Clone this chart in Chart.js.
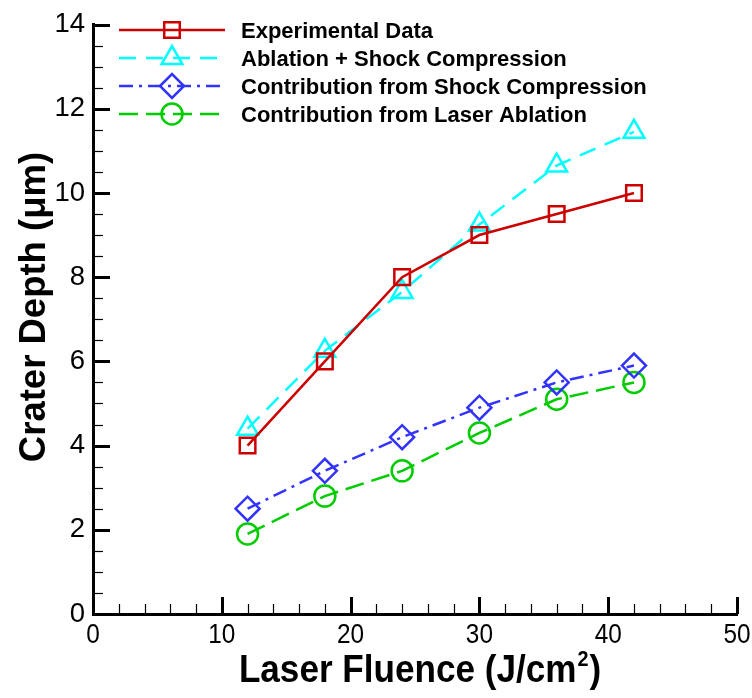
<!DOCTYPE html>
<html>
<head>
<meta charset="utf-8">
<title>Crater depth vs laser fluence</title>
<script src="https://cdn.jsdelivr.net/npm/chart.js@4/dist/chart.umd.min.js"></script>
<style>
  html, body { margin: 0; padding: 0; background: #fff; }
  #wrap { width: 752px; height: 698px; }
</style>
</head>
<body>
<div id="wrap"><canvas id="chart" width="752" height="698"></canvas></div>
<script>
// fluence values (J/cm^2) and measured / modelled crater depth (um)
const fluence = [12, 18, 24, 30, 36, 42];
const experimental = [4.0, 6.0, 8.0, 9.0, 9.5, 10.0];
const ablationShock = [4.4, 6.25, 7.65, 9.25, 10.65, 11.45];
const shockPart = [2.5, 3.4, 4.2, 4.9, 5.5, 5.9];
const laserPart = [1.9, 2.8, 3.4, 4.3, 5.1, 5.5];

const seriesNames = [
  'Experimental Data',
  'Ablation + Shock Compression',
  'Contribution from Shock Compression',
  'Contribution from Laser Ablation'
];

const xMajor = [0, 10, 20, 30, 40, 50];
const yMajor = [0, 2, 4, 6, 8, 10, 12, 14];
const xMinorStep = 2;
const yMinorStep = 0.5;

const FONT = '"Liberation Sans", Arial, Helvetica, sans-serif';

function pts(ys) {
  return fluence.map((x, i) => ({ x: x, y: ys[i] }));
}

function series(label, data, color, dash, style, radius) {
  return {
    label: label,
    data: pts(data),
    borderColor: color,
    borderWidth: 2.5,
    borderDash: dash,
    pointStyle: style,
    pointRadius: radius,
    pointBorderColor: color,
    pointBackgroundColor: 'rgba(0,0,0,0)',
    pointBorderWidth: 2.5,
    fill: false,
    tension: 0
  };
}

const datasets = [
  series(seriesNames[0], experimental, '#cc0000', [], 'rect', 11),
  series(seriesNames[1], ablationShock, '#00ffff', [17, 10], 'triangle', 12),
  series(seriesNames[2], shockPart, '#3333ff', [14, 6, 3, 6], 'rectRot', 12),
  series(seriesNames[3], laserPart, '#00cc00', [19, 8], 'circle', 10.5)
];

// text squeezed horizontally (the plot used a condensed face)
function narrowText(ctx, text, x, y, sx) {
  ctx.save();
  ctx.translate(x, y);
  ctx.scale(sx, 1);
  ctx.fillText(text, 0, 0);
  ctx.restore();
}

// inward pointing major/minor ticks plus the x tick labels
const innerTicks = {
  id: 'innerTicks',
  afterDatasetsDraw(chart) {
    const ctx = chart.ctx;
    const xs = chart.scales.x, ys = chart.scales.y;
    const left = chart.chartArea.left, bottom = chart.chartArea.bottom;
    ctx.save();
    ctx.strokeStyle = '#000';
    for (let v = xs.min; v <= xs.max + 1e-9; v += xMinorStep) {
      const major = xMajor.includes(Math.round(v * 100) / 100);
      const px = Math.round(xs.getPixelForValue(v)) + 0.5;
      ctx.lineWidth = major ? 3 : 1.2;
      ctx.beginPath();
      ctx.moveTo(px, bottom);
      ctx.lineTo(px, bottom - (major ? 17 : 10));
      ctx.stroke();
    }
    for (let v = ys.min; v <= ys.max + 1e-9; v += yMinorStep) {
      const major = yMajor.includes(Math.round(v * 100) / 100);
      const py = Math.round(ys.getPixelForValue(v)) + 0.5;
      ctx.lineWidth = major ? 3 : 1.2;
      ctx.beginPath();
      ctx.moveTo(left, py);
      ctx.lineTo(left + (major ? 17 : 10), py);
      ctx.stroke();
    }

    ctx.fillStyle = '#000';
    ctx.font = '28px ' + FONT;
    ctx.textAlign = 'center';
    ctx.textBaseline = 'alphabetic';
    xMajor.forEach(v => {
      narrowText(ctx, String(v), xs.getPixelForValue(v), bottom + 29, 0.87);
    });
    ctx.restore();
  }
};

// axis titles
const axisTitles = {
  id: 'axisTitles',
  afterDraw(chart) {
    const ctx = chart.ctx;
    const sx = 0.9;
    ctx.save();
    ctx.fillStyle = '#000';
    ctx.textBaseline = 'alphabetic';
    ctx.textAlign = 'left';

    // x title with superscript 2
    const bigFont = 'bold 39px ' + FONT;
    const supFont = 'bold 22px ' + FONT;
    const partA = 'Laser Fluence (J/cm';
    const partB = ')';
    ctx.font = bigFont;
    const wA = ctx.measureText(partA).width * sx;
    const wB = ctx.measureText(partB).width * sx;
    ctx.font = supFont;
    const wS = ctx.measureText('2').width * sx;
    const x0 = 419 - (wA + wS + wB) / 2;
    const base = 682;
    ctx.font = bigFont;
    narrowText(ctx, partA, x0, base, sx);
    ctx.font = supFont;
    narrowText(ctx, '2', x0 + wA + 1, base - 16, sx);
    ctx.font = bigFont;
    narrowText(ctx, partB, x0 + wA + wS + 2, base, sx);

    // y title
    ctx.translate(35, 307);
    ctx.rotate(-Math.PI / 2);
    ctx.font = 'bold 36.5px ' + FONT;
    ctx.textAlign = 'center';
    ctx.textBaseline = 'middle';
    ctx.fillText('Crater Depth (\u03bcm)', 0, 0);
    ctx.restore();
  }
};

// legend in the upper left of the plot: line sample, marker, label
const plotLegend = {
  id: 'plotLegend',
  afterDraw(chart) {
    const ctx = chart.ctx;
    const rows = [30, 58, 86, 114];
    const lineX0 = 119, lineX1 = 225, markX = 172, textX = 241;
    ctx.save();
    chart.data.datasets.forEach((ds, i) => {
      const y = rows[i];
      ctx.strokeStyle = ds.borderColor;
      ctx.lineWidth = ds.borderWidth;
      ctx.setLineDash(ds.borderDash);
      ctx.beginPath();
      ctx.moveTo(lineX0, y);
      ctx.lineTo(lineX1, y);
      ctx.stroke();
      ctx.setLineDash([]);
      ctx.fillStyle = 'rgba(0,0,0,0)';
      ctx.strokeStyle = ds.pointBorderColor;
      ctx.lineWidth = ds.pointBorderWidth;
      Chart.helpers.drawPoint(ctx, {
        pointStyle: ds.pointStyle,
        radius: ds.pointRadius,
        rotation: 0,
        borderWidth: ds.pointBorderWidth
      }, markX, y);
      ctx.fillStyle = '#000';
      ctx.font = 'bold 22px ' + FONT;
      ctx.textAlign = 'left';
      ctx.textBaseline = 'alphabetic';
      ctx.fillText(ds.label, textX, y + 8);
    });
    ctx.restore();
  }
};

new Chart(document.getElementById('chart'), {
  type: 'line',
  data: { datasets: datasets },
  options: {
    responsive: false,
    animation: false,
    devicePixelRatio: 1,
    layout: { padding: { left: 0, top: 20, right: 15, bottom: 0 } },
    plugins: {
      legend: { display: false },
      tooltip: { enabled: false }
    },
    scales: {
      x: {
        type: 'linear',
        min: 0,
        max: 50,
        grid: { display: false, drawTicks: false },
        border: { display: true, color: '#000', width: 3 },
        ticks: { stepSize: 10, display: false },
        afterFit(scale) { scale.height = 84; }
      },
      y: {
        type: 'linear',
        min: 0,
        max: 14,
        grid: { display: false, drawTicks: false },
        border: { display: true, color: '#000', width: 3 },
        ticks: {
          stepSize: 2,
          padding: 8,
          color: '#000',
          font: { family: FONT, size: 27.5 }
        },
        afterFit(scale) { scale.width = 93; }
      }
    }
  },
  plugins: [innerTicks, axisTitles, plotLegend]
});
</script>
</body>
</html>
